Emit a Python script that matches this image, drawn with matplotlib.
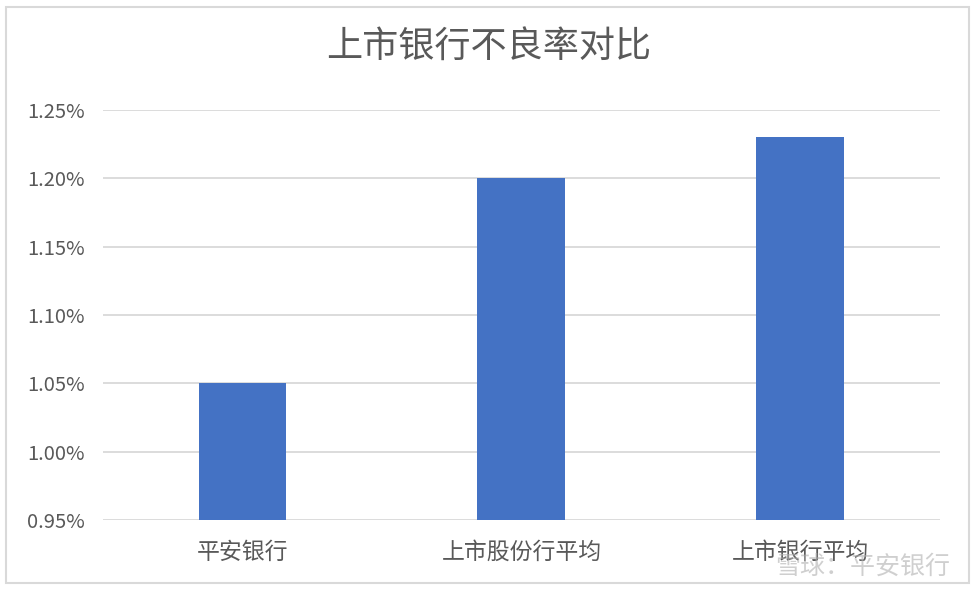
import numpy as np
import matplotlib.pyplot as plt
from matplotlib.patches import Rectangle
from matplotlib.ticker import FuncFormatter

plt.rcParams['font.family'] = ['Noto Sans CJK SC', 'DejaVu Sans']

categories = ["平安银行", "上市股份行平均", "上市银行平均"]
npl_ratio = [1.05, 1.20, 1.23]  # %
yticks = [0.95, 1.00, 1.05, 1.10, 1.15, 1.20, 1.25]

fig = plt.figure(figsize=(9.78, 5.94), dpi=100)
ax = fig.add_axes([0.1053, 0.1246, 0.8557, 0.6902])

x = np.arange(len(categories))
ax.bar(x, npl_ratio, width=0.315, color="#4472C4", zorder=3)

ax.set_xlim(-0.5, len(categories) - 0.5)
ax.set_ylim(0.95, 1.25)
ax.set_yticks(yticks)
ax.yaxis.set_major_formatter(FuncFormatter(lambda v, p: "{:.2f}%".format(v)))
ax.set_xticks(x)
ax.set_xticklabels(categories)

ax.grid(axis="y", color="#d9d9d9", linewidth=1.3, zorder=0)
for s in ax.spines.values():
    s.set_visible(False)
ax.tick_params(axis="both", length=0, colors="#595959")
ax.tick_params(axis="y", pad=13, labelsize=14.5)
ax.tick_params(axis="x", pad=15, labelsize=16.5)

fig.text(0.5, 0.919, "上市银行不良率对比", ha="center", va="center",
         fontsize=26, color="#595959")

# watermark
fig.text(0.972, 0.046, "雪球：平安银行", ha="right", va="center",
         fontsize=18, color="#b0b0b0", alpha=0.6)

# outer border
fig.patches.append(Rectangle((0.006, 0.018), 0.985, 0.97, transform=fig.transFigure,
                             fill=False, edgecolor="#d9d9d9", linewidth=1.5))

fig.savefig("out.png", dpi=100)
